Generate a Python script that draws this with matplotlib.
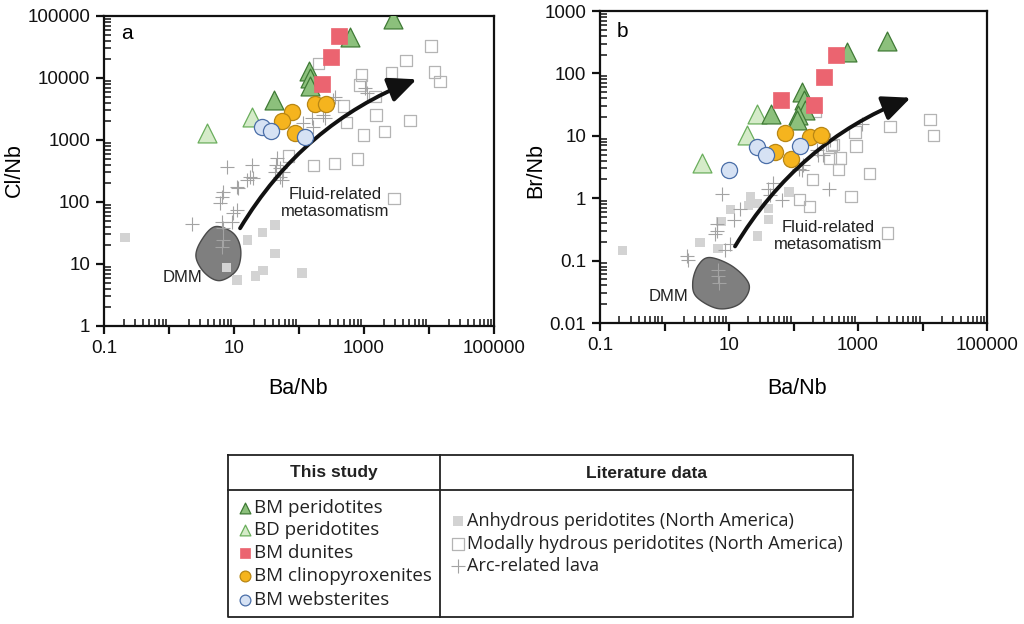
import numpy as np
import matplotlib
matplotlib.use("Agg")
import matplotlib.pyplot as plt
from matplotlib.patches import FancyArrowPatch, Polygon
from matplotlib.ticker import FixedLocator, FixedFormatter, LogLocator, NullFormatter

plt.rcParams["font.family"] = ["Liberation Sans", "DejaVu Sans"]

# ---- panel a : Cl/Nb vs Ba/Nb ----
a_bmp_x = [2760, 610, 144, 150, 150, 41]
a_bmp_y = [88500, 46000, 13000, 10000, 7400, 4400]
a_bdp_x = [3.9, 19]
a_bdp_y = [1280, 2320]
a_dun_x = [417, 307, 223]
a_dun_y = [47500, 21600, 7900]
a_cpx_x = [77, 54, 87, 176, 260]
a_cpx_y = [2860, 2050, 1310, 3770, 3770]
a_web_x = [27, 37, 124]
a_web_y = [1640, 1410, 1100]
a_anh_x = [0.21, 16, 27.6, 43, 43, 27.9, 21.5, 11.1, 7.6, 111]
a_anh_y = [26.6, 24.4, 32, 42.6, 14.9, 7.8, 6.4, 5.5, 8.7, 7.2]
a_hyd_x = [10700, 4430, 2670, 12100, 14800, 922, 867, 1480, 1530, 5100, 2050,
           975, 542, 481, 198, 789, 349, 166, 68.5, 2900, 3180]
a_hyd_y = [32800, 19000, 12200, 12600, 8700, 11200, 7700, 5000, 2530, 2050, 1360,
           1200, 1900, 3530, 17300, 490, 420, 385, 552, 113, 7700]
a_arc_x = [7.9, 18.7, 17.6, 16, 19.8, 11.6, 6.85, 6.47, 11.0, 9.75, 2.23, 6.47, 9.2,
           45.4, 44.3, 42.7, 51, 51, 6.85, 6.85, 6.47, 6.1, 11, 57.3, 54.2,
           116, 157, 166, 237, 251, 337, 358, 1035, 1100]
a_arc_y = [371, 395, 250, 226, 241, 166, 147, 122, 74, 66, 45, 48, 48,
           507, 395, 308, 350, 256, 37.7, 24.4, 19, 95, 177, 308, 226,
           1860, 2240, 1640, 2530, 2240, 4420, 4990, 6820, 5660]
a_dmm_x = [5.1, 9.76, 12.7, 11.0, 6.1, 3.58, 2.6, 3.18]
a_dmm_y = [40, 31.3, 16.8, 8.0, 5.4, 7.1, 13.1, 24.4]
a_arrow = [(12.4, 37.7), (6450, 9530)]

# ---- panel b : Br/Nb vs Ba/Nb ----
b_bmp_x = [2780, 667, 134, 146, 151, 119, 112, 44.8]
b_bmp_y = [330, 220, 50, 37, 25.6, 21.3, 17.7, 22]
b_bdp_x = [27.5, 18.8, 3.86]
b_bdp_y = [22.6, 10.2, 3.66]
b_dun_x = [456, 300, 64, 210]
b_dun_y = [200, 87.5, 37.9, 30.8]
b_cpx_x = [75, 180, 267, 52, 91]
b_cpx_y = [11, 9.6, 10.2, 5.5, 4.2]
b_web_x = [10.1, 27, 37, 126]
b_web_y = [2.86, 6.6, 4.86, 6.8]
b_anh_x = [0.222, 3.55, 6.8, 7.5, 10.6, 21.7, 27.5, 40.7, 40.7, 27.6, 85, 20]
b_anh_y = [0.146, 0.194, 0.155, 0.425, 0.655, 1.07, 0.817, 0.68, 0.458, 0.248, 1.26, 0.77]
b_hyd_x = [13100, 14700, 3130, 1500, 778, 2880, 931, 898, 526, 368, 496, 415,
           198, 176, 123, 391, 215]
b_hyd_y = [18.2, 10.2, 14.2, 2.47, 1.07, 0.277, 6.87, 11.5, 4.4, 4.3, 2.87, 7.3,
           2.0, 0.74, 0.95, 7.05, 25]
b_arc_x = [7.7, 40.7, 43.2, 65.6, 14.8, 12.0, 6.45, 6.59, 6.07, 10.4, 8.67, 2.21, 2.34,
           6.82, 6.82, 7.08, 47.5, 359, 1140, 243, 368, 122, 229, 290, 142, 134]
b_arc_y = [1.15, 1.43, 1.11, 0.925, 0.68, 0.454, 0.382, 0.298, 0.271, 0.187, 0.146,
           0.117, 0.101, 0.07, 0.056, 0.043, 1.75, 1.43, 15.7, 4.87, 8.5, 2.98,
           5.86, 4.87, 3.37, 2.8]
b_dmm_x = [5.07, 11.7, 20.6, 14.8, 6.82, 3.16, 2.74, 3.34]
b_dmm_y = [0.112, 0.079, 0.040, 0.0205, 0.017, 0.026, 0.045, 0.084]
b_arrow = [(12.4, 0.169), (6560, 40.8)]

# marker styles
STUDY = {
    "bmp": dict(marker="^", s=185, facecolor="#8cc07c", edgecolor="#3f7a35", linewidths=0.9),
    "bdp": dict(marker="^", s=185, facecolor="#d5ebc9", edgecolor="#6aae5c", linewidths=0.9),
    "dun": dict(marker="s", s=120, facecolor="#eb6470", edgecolor="#eb6470", linewidths=0.5),
    "cpx": dict(marker="o", s=135, facecolor="#f5b41e", edgecolor="#b88614", linewidths=0.9),
    "web": dict(marker="o", s=135, facecolor="#d6e2f4", edgecolor="#4a6ea8", linewidths=0.9),
}
LIT = {
    "anh": dict(marker="s", s=46, facecolor="#d3d3d3", edgecolor="none"),
    "hyd": dict(marker="s", s=68, facecolor="none", edgecolor="#b4b4b4", linewidths=0.9),
    "arc": dict(marker="+", s=90, color="#a3a3a3", linewidths=0.8),
}


def smooth_closed(xs, ys, n=30):
    # Catmull-Rom through the outline points, in log space
    lx, ly = np.log10(xs), np.log10(ys)
    k = len(lx)
    px, py = [], []
    for i in range(k):
        p0, p1, p2, p3 = [(lx[(i + j) % k], ly[(i + j) % k]) for j in (-1, 0, 1, 2)]
        for t in np.linspace(0, 1, n, endpoint=False):
            t2, t3 = t * t, t * t * t
            for out, d in ((px, 0), (py, 1)):
                out.append(0.5 * (2 * p1[d] + (-p0[d] + p2[d]) * t
                                  + (2 * p0[d] - 5 * p1[d] + 4 * p2[d] - p3[d]) * t2
                                  + (-p0[d] + 3 * p1[d] - 3 * p2[d] + p3[d]) * t3))
    return np.column_stack([10 ** np.array(px), 10 ** np.array(py)])


def draw_panel(ax, d, ylim, yticks, ylabels, letter, letter_xy, text_xy, dmm_xy):
    ax.add_patch(Polygon(smooth_closed(d["dmm_x"], d["dmm_y"]), closed=True,
                         facecolor="#7f7f7f", edgecolor="#4a4a4a", lw=1.0, zorder=1))
    ax.scatter(d["anh_x"], d["anh_y"], zorder=2, **LIT["anh"])
    ax.scatter(d["hyd_x"], d["hyd_y"], zorder=2, **LIT["hyd"])
    ax.scatter(d["arc_x"], d["arc_y"], zorder=2, **LIT["arc"])
    arrow = FancyArrowPatch(d["arrow"][0], d["arrow"][1], connectionstyle="arc3,rad=-0.17",
                            arrowstyle="-|>,head_length=0.85,head_width=0.38",
                            mutation_scale=20, lw=2.8, color="#111111",
                            shrinkA=0, shrinkB=0, zorder=3)
    ax.add_patch(arrow)
    for key in ("bdp", "bmp", "dun", "cpx", "web"):
        ax.scatter(d[key + "_x"], d[key + "_y"], zorder=4, **STUDY[key])

    ax.set_xscale("log")
    ax.set_yscale("log")
    ax.set_xlim(0.1, 100000)
    ax.set_ylim(*ylim)
    xmaj = [10.0 ** k for k in range(-1, 6)]
    ax.xaxis.set_major_locator(FixedLocator(xmaj))
    ax.xaxis.set_major_formatter(FixedFormatter(["0.1", "", "10", "", "1000", "", "100000"]))
    ax.yaxis.set_major_locator(FixedLocator(yticks))
    ax.yaxis.set_major_formatter(FixedFormatter(ylabels))
    for axis in (ax.xaxis, ax.yaxis):
        axis.set_minor_locator(LogLocator(base=10, subs=np.arange(2, 10), numticks=20))
        axis.set_minor_formatter(NullFormatter())
    ax.tick_params(which="major", direction="out", length=6, width=1.6, labelsize=13.5,
                   colors="#111111", pad=4)
    ax.tick_params(which="minor", direction="in", length=5, width=1.1, colors="#111111")
    for sp in ax.spines.values():
        sp.set_linewidth(1.6)
        sp.set_color("#111111")
    ax.text(*letter_xy, letter, transform=ax.transAxes, fontsize=15, va="center", ha="center")
    ax.text(*text_xy, "Fluid-related\nmetasomatism", fontsize=12, ha="center", va="center",
            color="#222222", linespacing=1.15)
    ax.text(*dmm_xy, "DMM", fontsize=12, ha="center", va="center", color="#222222")


fig = plt.figure(figsize=(10.24, 6.24), dpi=100)
W, H = 1024.0, 624.0


def px_axes(l, t, r, b):
    return fig.add_axes([l / W, 1 - b / H, (r - l) / W, (b - t) / H])


ax_a = px_axes(104, 16, 494, 326)
ax_b = px_axes(600, 11, 987, 323)

data_a = dict(bmp_x=a_bmp_x, bmp_y=a_bmp_y, bdp_x=a_bdp_x, bdp_y=a_bdp_y,
              dun_x=a_dun_x, dun_y=a_dun_y, cpx_x=a_cpx_x, cpx_y=a_cpx_y,
              web_x=a_web_x, web_y=a_web_y, anh_x=a_anh_x, anh_y=a_anh_y,
              hyd_x=a_hyd_x, hyd_y=a_hyd_y, arc_x=a_arc_x, arc_y=a_arc_y,
              dmm_x=a_dmm_x, dmm_y=a_dmm_y, arrow=a_arrow)
data_b = dict(bmp_x=b_bmp_x, bmp_y=b_bmp_y, bdp_x=b_bdp_x, bdp_y=b_bdp_y,
              dun_x=b_dun_x, dun_y=b_dun_y, cpx_x=b_cpx_x, cpx_y=b_cpx_y,
              web_x=b_web_x, web_y=b_web_y, anh_x=b_anh_x, anh_y=b_anh_y,
              hyd_x=b_hyd_x, hyd_y=b_hyd_y, arc_x=b_arc_x, arc_y=b_arc_y,
              dmm_x=b_dmm_x, dmm_y=b_dmm_y, arrow=b_arrow)

draw_panel(ax_a, data_a, (1, 100000), [1, 10, 100, 1000, 10000, 100000],
           ["1", "10", "100", "1000", "10000", "100000"], "a", (0.058, 0.945),
           (360, 96), (1.6, 6.0))
draw_panel(ax_b, data_b, (0.01, 1000), [0.01, 0.1, 1, 10, 100, 1000],
           ["0.01", "0.1", "1", "10", "100", "1000"], "b", (0.059, 0.933),
           (343, 0.245), (1.15, 0.027))

fig.text(14 / W, 1 - 170 / H, "Cl/Nb", rotation=90, fontsize=15.5, ha="center", va="center")
fig.text(536 / W, 1 - 171 / H, "Br/Nb", rotation=90, fontsize=15.5, ha="center", va="center")
fig.text(298 / W, 1 - 388 / H, "Ba/Nb", fontsize=15.5, ha="center", va="center")
fig.text(797 / W, 1 - 388 / H, "Ba/Nb", fontsize=15.5, ha="center", va="center")

# ---- legend table ----
lg = fig.add_axes([0, 0, 1, 1], zorder=5)
lg.set_xlim(0, W)
lg.set_ylim(H, 0)
lg.axis("off")
box_l, box_t, box_r, box_b = 228, 455, 853, 617
div_x, div_y = 440, 490
lg.plot([box_l, box_r, box_r, box_l, box_l], [box_t, box_t, box_b, box_b, box_t],
        color="#222222", lw=1.3)
lg.plot([div_x, div_x], [box_t, box_b], color="#222222", lw=1.3)
lg.plot([box_l, box_r], [div_y, div_y], color="#222222", lw=1.3)
LEG_FONT = ["Open Sans", "DejaVu Sans"]
lg.text((box_l + div_x) / 2, 473, "This study", fontsize=12.5, fontweight="bold",
        ha="center", va="center", color="#222222")
lg.text((div_x + box_r) / 2, 473, "Literature data", fontsize=12.5, fontweight="bold",
        ha="center", va="center", color="#222222")

study_labels = ["BM peridotites", "BD peridotites", "BM dunites",
                "BM clinopyroxenites", "BM websterites"]
study_keys = ["bmp", "bdp", "dun", "cpx", "web"]
study_rows = [508, 530, 553, 576, 600]
for key, lab, yy in zip(study_keys, study_labels, study_rows):
    st = dict(STUDY[key])
    st["s"] = 60 if st["marker"] != "s" else 52
    lg.scatter([245], [yy], **st)
    lg.text(254, yy, lab, fontsize=13.5, ha="left", va="center", color="#222222",
            family=LEG_FONT)

lit_labels = ["Anhydrous peridotites (North America)",
              "Modally hydrous peridotites (North America)", "Arc-related lava"]
lit_keys = ["anh", "hyd", "arc"]
lit_rows = [521, 544, 566]
for key, lab, yy in zip(lit_keys, lit_labels, lit_rows):
    st = dict(LIT[key])
    st["s"] = {"anh": 45, "hyd": 70, "arc": 90}[key]
    lg.scatter([458], [yy], **st)
    lg.text(467, yy, lab, fontsize=13.1, ha="left", va="center", color="#222222",
            family=LEG_FONT)

fig.savefig("out.png", dpi=100)
